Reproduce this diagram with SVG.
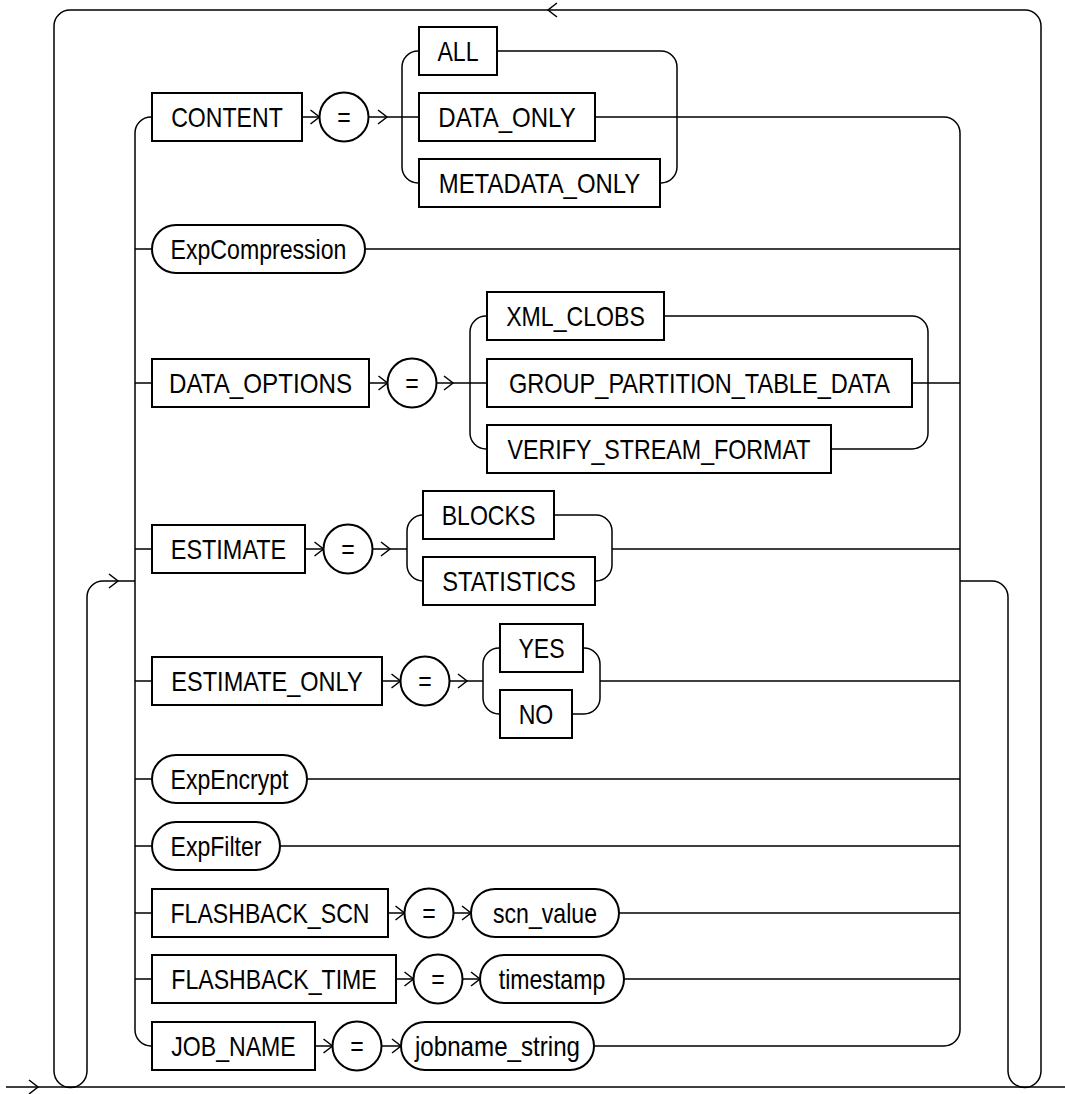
<svg xmlns="http://www.w3.org/2000/svg" width="1065" height="1094" viewBox="0 0 1065 1094">
<style>
.bx{fill:#fff;stroke:#000;stroke-width:2}
.ln{fill:none;stroke:#000;stroke-width:1.5}
.ar{fill:none;stroke:#000;stroke-width:1.5}
.t{font-family:"Liberation Sans",Arial,sans-serif;font-size:28px;text-anchor:middle;fill:#000}
</style>
<rect width="1065" height="1094" fill="#fff"/>
<g id="connectors">
<path class="ln" d="M 6,1087 H 1065"/>
<path class="ln" d="M 1008,597 V 1071 A 16.5,16.5 0 0 0 1041,1071 V 26 A 16,16 0 0 0 1025,10 H 70 A 16,16 0 0 0 54,26 V 1071 A 16.5,16.5 0 0 0 87,1071 V 597 A 16,16 0 0 1 103,581 H 135"/>
<path class="ln" d="M 960,581 H 992 A 16,16 0 0 1 1008,597"/>
<path class="ln" d="M 152,117 H 151 A 16,16 0 0 0 135,133 V 1030 A 16,16 0 0 0 151,1046 H 152"/>
<path class="ln" d="M 944,117 A 16,16 0 0 1 960,133 V 1030 A 16,16 0 0 1 944,1046"/>
<path class="ln" d="M 135,249 H 152 M 135,383 H 152 M 135,549 H 152 M 135,681 H 152 M 135,779 H 152 M 135,846 H 152 M 135,913 H 152 M 135,979 H 152"/>
<path class="ln" d="M 302,117 H 319.5 M 368.5,117 H 419 M 595,117 H 944"/>
<path class="ln" d="M 419,51 H 418 A 16,16 0 0 0 402,67 V 167 A 16,16 0 0 0 418,183 H 419"/>
<path class="ln" d="M 497,51 H 661 A 16,16 0 0 1 677,67 V 167 A 16,16 0 0 1 661,183 H 660"/>
<path class="ln" d="M 365,249 H 960"/>
<path class="ln" d="M 369,383 H 387.5 M 436.5,383 H 487 M 912,383 H 960"/>
<path class="ln" d="M 487,316 H 486 A 16,16 0 0 0 470,332 V 433 A 16,16 0 0 0 486,449 H 487"/>
<path class="ln" d="M 664,316 H 912 A 16,16 0 0 1 928,332 V 433 A 16,16 0 0 1 912,449 H 831"/>
<path class="ln" d="M 305,549 H 323.5 M 372.5,549 H 407 M 612,549 H 960"/>
<path class="ln" d="M 423,515 A 16,16 0 0 0 407,531 V 565 A 16,16 0 0 0 423,581"/>
<path class="ln" d="M 554,515 H 596 A 16,16 0 0 1 612,531 V 565 A 16,16 0 0 1 596,581 H 595"/>
<path class="ln" d="M 382,681 H 400.5 M 449.5,681 H 483 M 600,681 H 960"/>
<path class="ln" d="M 500,648 H 499 A 16,16 0 0 0 483,664 V 698 A 16,16 0 0 0 499,714 H 500"/>
<path class="ln" d="M 583,648 H 584 A 16,16 0 0 1 600,664 V 698 A 16,16 0 0 1 584,714 H 572"/>
<path class="ln" d="M 307,779 H 960 M 280,846 H 960"/>
<path class="ln" d="M 388,913 H 404.5 M 453.5,913 H 471 M 619,913 H 960"/>
<path class="ln" d="M 396,979 H 413.5 M 462.5,979 H 480 M 624,979 H 960"/>
<path class="ln" d="M 315,1046 H 332.5 M 381.5,1046 H 401 M 594,1046 H 944"/>
<path class="ar" d="M 557,3 L 548,10 L 557,17"/>
<path class="ar" d="M 29,1080 L 38,1087 L 29,1094 M 109,574 L 118,581 L 109,588 M 310.5,110 L 319.5,117 L 310.5,124 M 378,110 L 387,117 L 378,124 M 378.5,376 L 387.5,383 L 378.5,390 M 444,376 L 453,383 L 444,390 M 314.5,542 L 323.5,549 L 314.5,556 M 381,542 L 390,549 L 381,556 M 391.5,674 L 400.5,681 L 391.5,688 M 458,674 L 467,681 L 458,688 M 395.5,906 L 404.5,913 L 395.5,920 M 462,906 L 471,913 L 462,920 M 404.5,972 L 413.5,979 L 404.5,986 M 471,972 L 480,979 L 471,986 M 323.5,1039 L 332.5,1046 L 323.5,1053 M 392,1039 L 401,1046 L 392,1053"/>
</g>
<g id="content"><rect class="bx" x="152" y="93" width="150" height="48"/><text class="t" x="227" y="127" textLength="111.6" lengthAdjust="spacingAndGlyphs">CONTENT</text></g>
<g id="content-eq"><circle class="bx" cx="344" cy="117" r="24.5"/><text class="t" x="344" y="127" textLength="13.5" lengthAdjust="spacingAndGlyphs">=</text></g>
<g id="all"><rect class="bx" x="419" y="27" width="78" height="48"/><text class="t" x="458" y="61" textLength="41.1" lengthAdjust="spacingAndGlyphs">ALL</text></g>
<g id="data-only"><rect class="bx" x="419" y="93" width="176" height="48"/><text class="t" x="507" y="127" textLength="137.4" lengthAdjust="spacingAndGlyphs">DATA_ONLY</text></g>
<g id="metadata-only"><rect class="bx" x="419" y="159" width="241" height="48"/><text class="t" x="539.5" y="193" textLength="201.5" lengthAdjust="spacingAndGlyphs">METADATA_ONLY</text></g>
<g id="expcompression"><rect class="bx" x="152" y="225" width="213" height="48" rx="24" ry="24"/><text class="t" x="258.5" y="259" textLength="175.9" lengthAdjust="spacingAndGlyphs">ExpCompression</text></g>
<g id="data-options"><rect class="bx" x="152" y="359" width="217" height="48"/><text class="t" x="260.5" y="393" textLength="183" lengthAdjust="spacingAndGlyphs">DATA_OPTIONS</text></g>
<g id="data-options-eq"><circle class="bx" cx="412" cy="383" r="24.5"/><text class="t" x="412" y="393" textLength="13.5" lengthAdjust="spacingAndGlyphs">=</text></g>
<g id="xml-clobs"><rect class="bx" x="487" y="292" width="177" height="48"/><text class="t" x="575.5" y="326" textLength="138.6" lengthAdjust="spacingAndGlyphs">XML_CLOBS</text></g>
<g id="group-partition"><rect class="bx" x="487" y="359" width="425" height="48"/><text class="t" x="699.5" y="393" textLength="381" lengthAdjust="spacingAndGlyphs">GROUP_PARTITION_TABLE_DATA</text></g>
<g id="verify-stream"><rect class="bx" x="487" y="425" width="344" height="48"/><text class="t" x="659" y="459" textLength="302.9" lengthAdjust="spacingAndGlyphs">VERIFY_STREAM_FORMAT</text></g>
<g id="estimate"><rect class="bx" x="152" y="525" width="153" height="48"/><text class="t" x="228.5" y="559" textLength="115.5" lengthAdjust="spacingAndGlyphs">ESTIMATE</text></g>
<g id="estimate-eq"><circle class="bx" cx="348" cy="549" r="24.5"/><text class="t" x="348" y="559" textLength="13.5" lengthAdjust="spacingAndGlyphs">=</text></g>
<g id="blocks"><rect class="bx" x="423" y="491" width="131" height="48"/><text class="t" x="488.5" y="525" textLength="93.7" lengthAdjust="spacingAndGlyphs">BLOCKS</text></g>
<g id="statistics"><rect class="bx" x="423" y="557" width="172" height="48"/><text class="t" x="509" y="591" textLength="133.5" lengthAdjust="spacingAndGlyphs">STATISTICS</text></g>
<g id="estimate-only"><rect class="bx" x="152" y="657" width="230" height="48"/><text class="t" x="267" y="691" textLength="191.3" lengthAdjust="spacingAndGlyphs">ESTIMATE_ONLY</text></g>
<g id="estimate-only-eq"><circle class="bx" cx="425" cy="681" r="24.5"/><text class="t" x="425" y="691" textLength="13.5" lengthAdjust="spacingAndGlyphs">=</text></g>
<g id="yes"><rect class="bx" x="500" y="624" width="83" height="48"/><text class="t" x="541.5" y="658" textLength="46.2" lengthAdjust="spacingAndGlyphs">YES</text></g>
<g id="no"><rect class="bx" x="500" y="690" width="72" height="48"/><text class="t" x="536" y="724" textLength="34.7" lengthAdjust="spacingAndGlyphs">NO</text></g>
<g id="expencrypt"><rect class="bx" x="152" y="755" width="155" height="48" rx="24" ry="24"/><text class="t" x="229.5" y="789" textLength="118" lengthAdjust="spacingAndGlyphs">ExpEncrypt</text></g>
<g id="expfilter"><rect class="bx" x="152" y="822" width="128" height="48" rx="24" ry="24"/><text class="t" x="216" y="856" textLength="91" lengthAdjust="spacingAndGlyphs">ExpFilter</text></g>
<g id="flashback-scn"><rect class="bx" x="152" y="889" width="236" height="48"/><text class="t" x="270" y="923" textLength="199" lengthAdjust="spacingAndGlyphs">FLASHBACK_SCN</text></g>
<g id="flashback-scn-eq"><circle class="bx" cx="429" cy="913" r="24.5"/><text class="t" x="429" y="923" textLength="13.5" lengthAdjust="spacingAndGlyphs">=</text></g>
<g id="scn-value"><rect class="bx" x="471" y="889" width="148" height="48" rx="24" ry="24"/><text class="t" x="545" y="923" textLength="104" lengthAdjust="spacingAndGlyphs">scn_value</text></g>
<g id="flashback-time"><rect class="bx" x="152" y="955" width="244" height="48"/><text class="t" x="274" y="989" textLength="205.4" lengthAdjust="spacingAndGlyphs">FLASHBACK_TIME</text></g>
<g id="flashback-time-eq"><circle class="bx" cx="438" cy="979" r="24.5"/><text class="t" x="438" y="989" textLength="13.5" lengthAdjust="spacingAndGlyphs">=</text></g>
<g id="timestamp"><rect class="bx" x="480" y="955" width="144" height="48" rx="24" ry="24"/><text class="t" x="552" y="989" textLength="106.5" lengthAdjust="spacingAndGlyphs">timestamp</text></g>
<g id="job-name"><rect class="bx" x="152" y="1022" width="163" height="48"/><text class="t" x="233.5" y="1056" textLength="124.5" lengthAdjust="spacingAndGlyphs">JOB_NAME</text></g>
<g id="job-name-eq"><circle class="bx" cx="357" cy="1046" r="24.5"/><text class="t" x="357" y="1056" textLength="13.5" lengthAdjust="spacingAndGlyphs">=</text></g>
<g id="jobname-string"><rect class="bx" x="401" y="1022" width="193" height="48" rx="24" ry="24"/><text class="t" x="497.5" y="1056" textLength="165" lengthAdjust="spacingAndGlyphs">jobname_string</text></g>
</svg>
